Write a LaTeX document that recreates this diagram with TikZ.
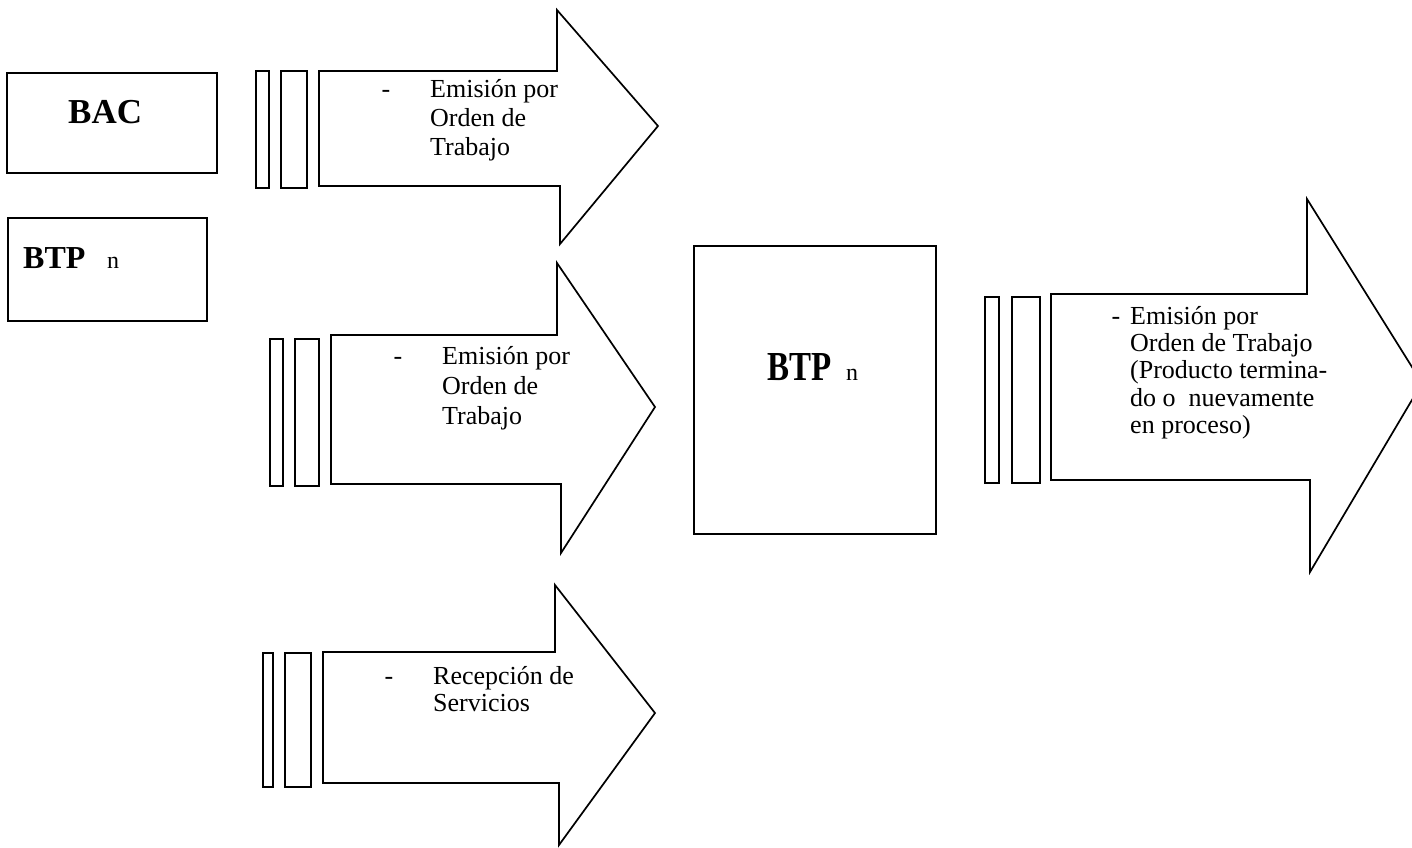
\documentclass[tikz,border=0pt]{standalone}
\usepackage{fontspec}
\setmainfont{Liberation Serif}
\tikzset{
  shp/.style={draw=black, line width=1.7pt, line join=miter, fill=white},
  lbl/.style={align=left, inner sep=0pt, anchor=north west},
  bigtxt/.style={font=\bfseries\fontsize{33}{38}\selectfont, inner sep=0pt, anchor=base west},
  subtxt/.style={font=\fontsize{24}{28}\selectfont, inner sep=0pt, anchor=base west},
}
\begin{document}
\begin{tikzpicture}[x=1pt,y=-1pt]
\useasboundingbox (0,0) rectangle (1412,847);
\fill[white] (0,0) rectangle (1412,847);
\begin{scope}
\clip (0,0) rectangle (1412,847);
% left boxes
\draw[shp] (7,73) rectangle (217,173);
\node[bigtxt, font=\bfseries\fontsize{35}{40}\selectfont] (bac) at (68,123) {BAC};
\draw[shp] (8,218) rectangle (207,321);
\node[bigtxt, font=\bfseries\fontsize{32}{38}\selectfont] (btpa) at (23,268) {BTP};
\node[subtxt] (na) at (107,268) {n};

% arrow 1
\draw[shp] (256,71) rectangle (269,188);
\draw[shp] (281,71) rectangle (307,188);
\draw[shp] (319,71) -- (557,71) -- (557,10) -- (658,126) -- (560,244) -- (560,186) -- (319,186) -- cycle;
\node[lbl, font=\fontsize{26}{29}\selectfont] (t1) at (430,79) {\llap{-\hspace{40pt}}Emisión por\\Orden de\\Trabajo};

% arrow 2
\draw[shp] (270,339) rectangle (283,486);
\draw[shp] (295,339) rectangle (319,486);
\draw[shp] (331,335) -- (557,335) -- (557,263) -- (655,407) -- (561,553) -- (561,484) -- (331,484) -- cycle;
\node[lbl, font=\fontsize{26}{30}\selectfont] (t2) at (442,346) {\llap{-\hspace{40pt}}Emisión por\\Orden de\\Trabajo};

% arrow 3
\draw[shp] (263,653) rectangle (273,787);
\draw[shp] (285,653) rectangle (311,787);
\draw[shp] (323,652) -- (555,652) -- (555,585) -- (655,713) -- (559,845) -- (559,783) -- (323,783) -- cycle;
\node[lbl, font=\fontsize{26}{27}\selectfont] (t3) at (433,666) {\llap{-\hspace{40pt}}Recepción de\\Servicios};

% centre box
\draw[shp] (694,246) rectangle (936,534);
\node[bigtxt] (btpb) at (767,380) {\scalebox{1}[1.25]{BTP}};
\node[subtxt] (nb) at (846,380) {n};

% right arrow
\draw[shp] (985,297) rectangle (999,483);
\draw[shp] (1012,297) rectangle (1040,483);
\draw[shp] (1051,294) -- (1307,294) -- (1307,199) -- (1422,383) -- (1310,572) -- (1310,480) -- (1051,480) -- cycle;
\node[lbl, font=\fontsize{26}{27.3}\selectfont] (t4) at (1130,306) {\llap{-\hspace{10pt}}Emisión por\\Orden de Trabajo\\(Producto termina-\\do o~ nuevamente\\en proceso)};
\end{scope}
\end{tikzpicture}
\end{document}
